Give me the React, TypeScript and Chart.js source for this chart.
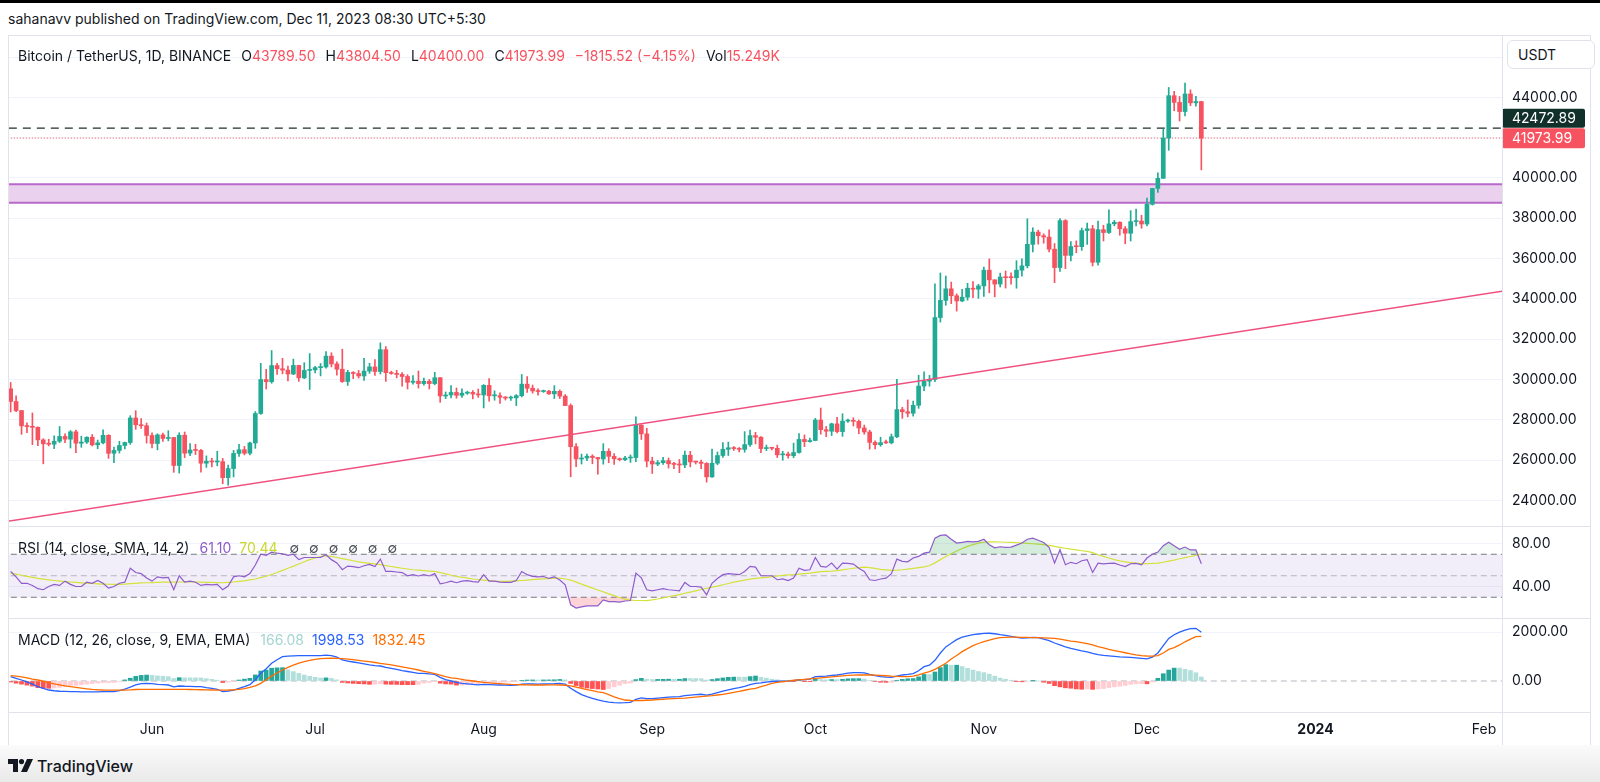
import React, { useEffect, useRef } from "react";
import { Chart, registerables } from "chart.js";

Chart.register(...registerables);

// ---------- data (daily candles, first candle = 2023-05-06) ----------
const opens = [
  29534, 28904, 28454, 27694, 27658, 27621, 27000, 26804, 26784, 26931, 27170, 27034, 27399, 26833, 26890, 27130, 26754, 26851, 27225, 26334, 26476, 26720, 26868, 28085, 27746, 27702,
  27219, 26819, 27249, 27069, 27116, 25728, 27230, 26339, 26498, 26477, 25841, 25940, 25903, 25919, 25125, 25576, 26327, 26510, 26336, 26845, 28307, 29993, 29885, 30688, 30528, 30462, 30267, 30693, 30077, 30446,
  30472, 30585, 30617, 31156, 30767, 30504, 29895, 30346, 30292, 30171, 30414, 30620, 30391, 31476, 30334, 30295, 30249, 30145, 29856, 29913, 29792, 29908, 29791, 30083, 29176, 29228, 29354, 29210, 29317, 29356, 29275,
  29230, 29705, 29186, 29193, 29113, 29073, 29088, 29193, 29765, 29561, 29429, 29397, 29415, 29283, 29408, 29170, 28701, 26664, 26049, 26097, 26189, 26125, 26052, 26432, 26180, 26060, 26018, 26098, 26120, 27726, 27297,
  25941, 25800, 25869, 25969, 25812, 25780, 25753, 26241, 25906, 25895, 25832, 25163, 25840, 26223, 26533, 26609, 26568, 26527, 26763, 27211, 27133, 26568, 26580, 26579, 26256, 26298, 26217, 26372, 27021, 26911,
  26967, 27983, 27505, 27429, 27794, 27410, 27932, 27957, 27918, 27590, 27392, 26874, 26757, 26863, 26853, 27154, 28500, 28395, 28321, 28714, 29669, 29910, 29993, 33070, 33922, 34497, 34152, 33892, 34082, 34525, 34477,
  34640, 35421, 34941, 34732, 35083, 35048, 35047, 35420, 35638, 36702, 37311, 37130, 37064, 36462, 35551, 37880, 36154, 36596, 36585, 37386, 37476, 35813, 37432, 37289, 37721, 37797, 37479, 37254, 37831, 37858,
  37712, 38688, 39476, 39978, 41980, 44080, 43746, 43293, 44166, 43725, 43789.5,
];
const highs = [
  29848, 29180, 28459, 27842, 28336, 27641, 27055, 27030, 27200, 27666, 27299, 27465, 27485, 27183, 27155, 27265, 26991, 27495, 27258, 26645, 26931, 26890, 28200, 28447, 28050, 27835,
  27350, 27300, 27337, 27455, 27130, 27355, 27391, 26810, 26783, 26530, 26203, 26087, 26433, 26080, 25750, 26478, 26784, 26677, 26889, 28402, 30800, 30500, 31432, 30800, 31046, 30666, 31006, 30703, 30829, 31282,
  30654, 30789, 31380, 31324, 30878, 31500, 30449, 30386, 30445, 31046, 30800, 30980, 31814, 31630, 30408, 30455, 30337, 30233, 30184, 30417, 30063, 29998, 30350, 30099, 29376, 29690, 29572, 29530, 29415, 29449, 29525,
  29744, 30047, 29433, 29333, 29152, 29177, 29250, 30245, 30136, 29719, 29530, 29472, 29454, 29690, 29477, 29250, 28783, 26818, 26296, 26299, 26260, 26139, 26810, 26560, 26314, 26107, 26183, 26250, 28142, 27757, 27575,
  26139, 25976, 26127, 26100, 25888, 26026, 26443, 26432, 25945, 26000, 25870, 26538, 26400, 26860, 26888, 26670, 26623, 27409, 27488, 27376, 27160, 26743, 26632, 26738, 26432, 26389, 26837, 27308, 27244, 27094,
  28065, 28580, 27667, 27830, 28120, 28295, 28030, 28095, 27987, 27735, 27480, 26947, 27130, 26990, 27289, 30000, 28613, 28982, 28925, 30207, 30379, 30200, 34741, 35280, 35132, 34832, 34245, 34476, 34770, 34856, 34720,
  35573, 35984, 34942, 35275, 35380, 35287, 35892, 35980, 37972, 37526, 37408, 37228, 37417, 36744, 37980, 37930, 36845, 36876, 37509, 37755, 37650, 37856, 37653, 38416, 37892, 37828, 37589, 38377, 38450, 38145,
  38999, 39476, 40250, 42420, 44488, 44300, 44042, 44700, 44370, 44046, 43804.5,
];
const lows = [
  28385, 28401, 27273, 27352, 26764, 26706, 25811, 26699, 26560, 26863, 26856, 26595, 26361, 26631, 26819, 26697, 26560, 26801, 26082, 25871, 26345, 26553, 26778, 27524, 27563, 26839,
  26605, 26505, 26923, 26951, 25388, 25351, 26119, 26210, 26269, 25400, 25633, 25659, 25713, 24820, 24757, 25160, 26175, 26255, 26256, 26579, 28266, 29525, 29809, 30250, 30277, 29930, 30236, 29900, 30037, 29500,
  30324, 30173, 30554, 30619, 30209, 29850, 29701, 30038, 30065, 29950, 30300, 30200, 30268, 29900, 30254, 30077, 29659, 29525, 29763, 29570, 29716, 29525, 29730, 28861, 29047, 29083, 29069, 29102, 29256, 29033, 29111,
  28585, 28920, 28968, 28806, 28978, 28959, 28701, 29128, 29350, 29320, 29220, 29356, 29252, 29050, 29050, 28700, 25166, 25668, 25801, 25963, 25812, 25300, 25793, 25864, 25777, 25960, 25971, 25880, 25922, 27018, 25655,
  25333, 25718, 25780, 25600, 25570, 25370, 25615, 25659, 25802, 25570, 24901, 25131, 25766, 26126, 26224, 26474, 26400, 26385, 26674, 26800, 26365, 26468, 26500, 26122, 25990, 26090, 26111, 26341, 26665, 26890,
  26954, 27282, 27160, 27215, 27340, 27175, 27860, 27689, 27300, 27280, 26538, 26555, 26685, 26815, 26800, 27112, 28069, 28142, 28175, 28565, 29440, 29666, 29883, 32846, 33679, 33762, 33390, 33860, 33930, 34062, 34025,
  34116, 34300, 34097, 34586, 34534, 34732, 34525, 35123, 35534, 36324, 36712, 36760, 36333, 34800, 35361, 35500, 35875, 36289, 36403, 36700, 35632, 35670, 36870, 37251, 37617, 37155, 36731, 36869, 37615, 37500,
  37615, 38650, 39275, 39978, 41371, 43335, 42821, 43081, 43583, 43566, 40400,
];
const closes = [
  28904, 28454, 27694, 27658, 27621, 27000, 26804, 26784, 26931, 27170, 27034, 27399, 26833, 26890, 27130, 26754, 26851, 27225, 26334, 26476, 26720, 26868, 28085, 27746, 27702, 27219,
  26819, 27249, 27069, 27116, 25728, 27230, 26339, 26498, 26477, 25841, 25940, 25903, 25919, 25125, 25576, 26327, 26510, 26336, 26845, 28307, 29993, 29885, 30688, 30528, 30462, 30267, 30693, 30077, 30446, 30472,
  30585, 30617, 31156, 30767, 30504, 29895, 30346, 30292, 30171, 30414, 30620, 30391, 31476, 30334, 30295, 30249, 30145, 29856, 29913, 29792, 29908, 29791, 30083, 29176, 29228, 29354, 29210, 29317, 29356, 29275, 29230,
  29705, 29186, 29193, 29113, 29073, 29088, 29193, 29765, 29561, 29429, 29397, 29415, 29283, 29408, 29170, 28701, 26664, 26049, 26097, 26189, 26125, 26052, 26432, 26180, 26060, 26018, 26098, 26120, 27726, 27297, 25941,
  25800, 25869, 25969, 25812, 25780, 25753, 26241, 25906, 25895, 25832, 25163, 25840, 26223, 26533, 26609, 26568, 26527, 26763, 27211, 27133, 26568, 26580, 26579, 26256, 26298, 26217, 26372, 27021, 26911, 26967,
  27983, 27505, 27429, 27794, 27410, 27932, 27957, 27918, 27590, 27392, 26874, 26757, 26863, 26853, 27154, 28500, 28395, 28321, 28714, 29669, 29910, 29993, 33070, 33922, 34497, 34152, 33892, 34082, 34525, 34477, 34640,
  35421, 34941, 34732, 35083, 35048, 35047, 35420, 35638, 36702, 37311, 37130, 37064, 36462, 35551, 37880, 36154, 36596, 36585, 37386, 37476, 35813, 37432, 37289, 37721, 37797, 37479, 37254, 37831, 37858, 37712,
  38688, 39476, 39978, 41980, 44080, 43746, 43293, 44166, 43725, 43789.5, 41973.99,
];

const rsiValues = [
  54, 49, 43, 43, 41, 38, 37, 40, 42, 41, 45, 42, 40, 40, 44, 43, 45.6, 43, 38.5, 40,
  43, 44, 57, 53, 52, 48, 45, 49, 48, 48.5, 37, 50, 44, 45, 44, 41, 42, 41.6, 42, 37,
  40.5, 49, 50, 49, 52, 60, 70, 69, 72, 71, 70.5, 69, 70, 65, 67, 67, 67, 67, 69.5, 65,
  62, 55.6, 59, 58.5, 57.5, 59.3, 60.5, 58.5, 65.5, 54, 54, 53.5, 53, 50, 51, 49.8, 51, 49.8, 52, 42.5,
  43.5, 45, 43.5, 45, 45.5, 44.5, 44, 51, 45, 45, 44, 43.8, 43.8, 45.5, 54, 51, 49.5, 49, 49.3, 47.5,
  49, 46, 41.5, 23, 20, 21, 22, 22, 22, 27.5, 26, 26, 25.5, 26.5, 27, 52.5, 48, 37, 36, 37,
  38, 37, 36.5, 36, 43.8, 40, 40, 39.5, 32.3, 43, 47.5, 51, 52, 51.5, 51, 54, 58.7, 58, 50, 50,
  50, 46.3, 47, 45.6, 47.8, 57, 55, 55.6, 67, 58.7, 58, 61.8, 56.2, 61.8, 61.5, 60.9, 57, 54, 46.3, 45.6,
  47, 47.8, 52, 65.5, 63.4, 63, 66.5, 68, 71, 72, 85, 87.6, 88, 84, 80.4, 81, 82, 81.5, 82, 84,
  78.9, 76, 77, 76.5, 76.7, 78.5, 80.4, 84, 85, 83, 81, 76.5, 61.8, 74.2, 60.2, 62.5, 61.2, 64, 65, 53.1,
  61.8, 61, 61.5, 61.8, 60, 58.5, 61.2, 61.5, 60.2, 66.5, 70, 72, 78, 81.2, 78, 74.6, 76.7, 74, 74, 61.1,
];
const rsiSmaValues = [
  52.5, 51.5, 50.5, 49.5, 48.5, 47.5, 46.8, 46.2, 45.6, 45.1, 44.6, 44.2, 43.8, 43.4, 43.1, 42.8, 42.5, 42.3, 42.1, 42.0,
  42.0, 42.2, 42.6, 43.0, 43.3, 43.5, 43.6, 43.8, 44.0, 44.1, 44.0, 44.2, 44.4, 44.3, 44.2, 44.0, 43.9, 43.8, 43.7, 43.5,
  43.8, 44.2, 44.7, 45.3, 46.2, 47.0, 48.2, 49.5, 51.2, 53.0, 55.0, 57.0, 59.0, 61.0, 63.0, 65.0, 66.5, 67.8, 68.6, 68.0,
  67.0, 66.0, 65.0, 64.0, 63.0, 62.3, 61.6, 61.0, 60.3, 59.5, 58.6, 57.8, 57.0, 56.3, 55.6, 55.2, 54.8, 54.4, 54.0, 53.0,
  51.8, 50.5, 49.4, 48.6, 47.8, 47.0, 46.5, 46.0, 45.5, 45.0, 44.7, 44.8, 45.0, 45.3, 45.6, 46.0, 46.4, 46.8, 47.1, 47.4,
  47.7, 47.8, 47.0, 46.0, 44.1, 42.2, 40.4, 38.5, 36.7, 35.0, 33.2, 31.5, 29.8, 28.3, 27.4, 27.0, 27.0, 26.9, 27.5, 28.4,
  29.5, 30.5, 31.5, 32.5, 33.7, 34.8, 36.0, 37.2, 38.3, 39.4, 40.4, 41.6, 42.8, 44.0, 45.0, 46.0, 46.8, 47.5, 48.0, 48.5,
  49.2, 49.8, 50.3, 50.8, 51.0, 51.5, 52.0, 52.5, 53.2, 53.8, 54.0, 54.2, 54.8, 55.5, 56.3, 57.0, 57.6, 58.0, 57.5, 56.8,
  56.0, 55.5, 55.0, 55.2, 55.6, 56.2, 56.8, 57.5, 58.3, 59.5, 62.0, 65.0, 68.0, 70.5, 73.0, 75.3, 77.3, 79.0, 80.3, 81.2,
  81.5, 81.6, 81.4, 81.2, 81.0, 80.8, 80.5, 80.2, 79.8, 79.4, 79.0, 78.2, 77.3, 76.4, 75.6, 74.8, 74.0, 73.3, 72.7, 71.5,
  69.5, 68.0, 66.5, 65.0, 63.8, 63.0, 62.3, 61.7, 61.3, 61.2, 61.5, 61.8, 62.6, 63.6, 64.6, 65.8, 66.8, 67.9, 69.0, 70.44,
];
const macdValues = [
  178, 110, 41, -40, -130, -233, -300, -370, -400, -420, -430, -438, -440, -445, -448, -450, -445, -440, -440, -438,
  -400, -330, -250, -160, -110, -96, -110, -137, -150, -165, -240, -205, -215, -220, -228, -233, -270, -300, -340, -438,
  -420, -370, -300, -233, -150, 50, 315, 500, 726, 870, 1000, 1020, 1035, 1041, 1041, 1041, 1040, 1041, 1060, 1041,
  980, 863, 820, 780, 740, 700, 658, 630, 616, 560, 520, 479, 430, 390, 350, 315, 315, 290, 270, 150,
  60, 0, -60, -96, -120, -140, -155, -140, -150, -160, -164, -170, -175, -170, -130, -120, -120, -125, -120, -115,
  -110, -100, -130, -300, -438, -560, -640, -712, -780, -830, -870, -890, -895, -890, -880, -750, -690, -720, -720, -700,
  -680, -660, -650, -640, -600, -580, -560, -545, -580, -540, -480, -420, -360, -310, -270, -220, -150, -96, -80, -50,
  -20, -10, -5, 0, 14, 60, 60, 80, 178, 190, 200, 230, 247, 280, 320, 342, 345, 330, 270, 219,
  180, 160, 151, 200, 247, 270, 300, 420, 589, 650, 850, 1150, 1400, 1548, 1700, 1800, 1850, 1900, 1930, 1959,
  1960, 1940, 1900, 1870, 1830, 1790, 1760, 1770, 1790, 1781, 1720, 1660, 1560, 1480, 1400, 1342, 1290, 1240, 1200, 1137,
  1080, 1050, 1030, 1010, 990, 980, 973, 950, 930, 910, 980, 1150, 1450, 1750, 1900, 2010, 2090, 2150, 2164, 1998.53,
];
const signalValues = [
  219, 200, 170, 130, 80, 41, -10, -70, -120, -160, -200, -233, -260, -290, -320, -345, -360, -370, -375, -378,
  -378, -375, -365, -350, -340, -340, -342, -345, -345, -342, -340, -342, -345, -350, -355, -360, -365, -370, -372, -375,
  -370, -360, -340, -310, -260, -200, -96, 50, 200, 330, 452, 560, 650, 730, 795, 850, 890, 920, 932, 935,
  932, 920, 900, 880, 850, 820, 795, 760, 720, 690, 658, 620, 580, 540, 500, 452, 400, 350, 300, 240,
  180, 130, 110, 70, 30, 0, -30, -60, -80, -96, -110, -125, -140, -150, -155, -160, -164, -164, -164, -160,
  -160, -164, -175, -200, -250, -301, -350, -400, -450, -479, -560, -650, -720, -781, -800, -808, -800, -790, -780, -765,
  -750, -735, -720, -712, -700, -680, -660, -640, -620, -600, -575, -545, -510, -470, -430, -380, -330, -301, -230, -170,
  -96, -60, -30, -8, 30, 50, 68, 90, 110, 130, 150, 170, 190, 210, 230, 245, 247, 247, 247, 240,
  230, 215, 200, 190, 178, 178, 200, 250, 320, 384, 480, 600, 726, 900, 1050, 1205, 1330, 1450, 1540, 1616,
  1680, 1740, 1780, 1795, 1800, 1800, 1795, 1790, 1785, 1781, 1770, 1760, 1753, 1720, 1680, 1640, 1616, 1580, 1530, 1480,
  1411, 1360, 1300, 1250, 1205, 1160, 1110, 1070, 1040, 1027, 1020, 1040, 1150, 1300, 1370, 1480, 1610, 1720, 1824, 1832.45,
];
const histValues = [
  -41, -90, -129, -170, -210, -274, -290, -300, -280, -260, -230, -205, -180, -155, -128, -105, -85, -70, -65, -60,
  -22, 45, 115, 190, 230, 244, 232, 208, 195, 177, 100, 137, 130, 130, 127, 127, 95, 70, 32, -63,
  -50, -10, 40, 77, 110, 250, 411, 450, 526, 540, 548, 460, 385, 311, 246, 191, 150, 121, 128, 106,
  48, -57, -80, -100, -110, -120, -137, -130, -104, -130, -138, -141, -150, -150, -150, -137, -85, -60, -30, -90,
  -120, -130, -170, -166, -150, -140, -125, -80, -70, -64, -54, -45, -35, -20, 25, 40, 44, 39, 44, 45,
  50, 64, 45, -100, -188, -259, -290, -312, -330, -351, -310, -240, -175, -109, -80, 58, 110, 70, 60, 65,
  70, 75, 70, 72, 100, 100, 100, 95, 40, 60, 95, 125, 150, 160, 160, 160, 180, 205, 150, 120,
  76, 50, 25, 8, -16, 10, -8, -10, 68, 60, 50, 60, 57, 70, 90, 97, 98, 83, 23, -21,
  -50, -55, -49, 10, 69, 92, 100, 170, 269, 266, 370, 550, 674, 648, 650, 595, 520, 450, 390, 343,
  280, 200, 120, 75, 30, -10, -35, -20, 5, 0, -50, -100, -193, -240, -280, -298, -326, -340, -330, -343,
  -331, -310, -270, -240, -215, -180, -137, -120, -110, -117, -40, 110, 300, 450, 530, 530, 480, 430, 340, 166.08,
];

// x positions are day offsets from 2023-05-06
const monthTickValues = [26, 56, 87, 118, 148, 179, 209, 240, 271];
const monthTickLabels = ["Jun", "Jul", "Aug", "Sep", "Oct", "Nov", "Dec", "2024", "Feb"];
const priceTicks = [24000, 26000, 28000, 30000, 32000, 34000, 36000, 38000, 40000, 42000, 44000, 46000];
const rsiTicks = [40, 80];
const macdTicks = [0, 2000];

const lastPrice = 41973.99;
const markerPrice = 42472.89;
const zoneTop = 39680;
const zoneBottom = 38770;
const trendX = [-4, 278];
const trendY = [22812, 34526];
const rsiUpper = 70;
const rsiMid = 50;
const rsiLower = 30;

// ---------- styling / layout ----------
const FONT = "Inter, 'Noto Sans', 'DejaVu Sans', sans-serif";
const TEXT = "#131722";
const UP = "#22ab94";
const DOWN = "#f7525f";
const GRID = "#f0f3fa";
const SEP = "#e0e3eb";
const ZONE = "#b868c9";

const PANE_LEFT = 8;
const AXIS_X = 1502;
const RIGHT = 1590;
const AXIS_W = RIGHT - AXIS_X;
const CW = RIGHT - PANE_LEFT;
const MAIN_TOP = 35;
const RSI_TOP = 526;
const MACD_TOP = 618;
const XAXIS_TOP = 712;
const BOTTOM = 745;
const X_MIN = -0.49;
const X_MAX = 274.3;
const hX = [X_MIN - 5, X_MAX + 5];

function rightAxis(min: number, max: number, values: number[], fmt: (v: number) => string, gridColor: any) {
  return {
    type: "linear",
    position: "right",
    min,
    max,
    afterBuildTicks: (s: any) => {
      s.ticks = values.map((v) => ({ value: v }));
    },
    afterFit: (s: any) => {
      s.width = AXIS_W;
      s.paddingTop = 0;
      s.paddingBottom = 0;
    },
    grid: { color: gridColor, drawTicks: false, lineWidth: 1 },
    border: { display: false },
    ticks: {
      padding: 10,
      color: TEXT,
      autoSkip: false,
      font: { family: FONT, size: 14 },
      callback: (v: any) => fmt(Number(v)),
    },
  };
}

const hiddenX = {
  type: "linear",
  min: X_MIN,
  max: X_MAX,
  display: false,
  offset: false,
  grid: { offset: false },
};

const baseOptions = {
  responsive: false,
  maintainAspectRatio: false,
  animation: false,
  events: [] as string[],
  layout: { padding: 0 },
  plugins: { legend: { display: false }, tooltip: { enabled: false } },
};

function roundRect(ctx: CanvasRenderingContext2D, x: number, y: number, w: number, h: number, r: number) {
  ctx.beginPath();
  ctx.moveTo(x + r, y);
  ctx.lineTo(x + w - r, y);
  ctx.quadraticCurveTo(x + w, y, x + w, y + r);
  ctx.lineTo(x + w, y + h - r);
  ctx.quadraticCurveTo(x + w, y + h, x + w - r, y + h);
  ctx.lineTo(x + r, y + h);
  ctx.quadraticCurveTo(x, y + h, x, y + h - r);
  ctx.lineTo(x, y + r);
  ctx.quadraticCurveTo(x, y, x + r, y);
  ctx.closePath();
}

const priceLabelPlugin = {
  id: "priceLabels",
  afterDraw(chart: any) {
    const { ctx, chartArea } = chart;
    const y = chart.scales.y;
    const x0 = chartArea.right;
    const w = 83;
    const hRed = 20;
    const hDark = 19;
    const yRed = y.getPixelForValue(lastPrice);
    const redTop = yRed - hRed / 2;
    const darkTop = Math.min(y.getPixelForValue(markerPrice) - hDark / 2, redTop - hDark - 0.5);
    ctx.save();
    ctx.font = `14px ${FONT}`;
    ctx.textBaseline = "middle";
    ctx.textAlign = "left";
    ctx.fillStyle = "#12302a";
    roundRect(ctx, x0, darkTop, w, hDark, 2);
    ctx.fill();
    ctx.fillStyle = "#ffffff";
    ctx.fillText(markerPrice.toFixed(2), x0 + 10, darkTop + hDark / 2 + 0.5);
    ctx.fillStyle = DOWN;
    roundRect(ctx, x0, redTop, w, hRed, 2);
    ctx.fill();
    ctx.fillStyle = "#ffffff";
    ctx.fillText(lastPrice.toFixed(2), x0 + 10, yRed + 0.5);
    ctx.restore();
  },
};

export default function App() {
  const mainRef = useRef<HTMLCanvasElement>(null);
  const rsiRef = useRef<HTMLCanvasElement>(null);
  const macdRef = useRef<HTMLCanvasElement>(null);

  useEffect(() => {
    const charts: Chart[] = [];
    const candleColors = closes.map((c, i) => (c >= opens[i] ? UP : DOWN));
    const line = (xs: number[], ys: number[]) => xs.map((x, i) => ({ x, y: ys[i] }));
    const flat = (v: number) => hX.map((x) => ({ x, y: v }));

    // ---- main price pane ----
    if (mainRef.current) {
      charts.push(
        new Chart(mainRef.current, {
          type: "bar",
          data: {
            datasets: [
              {
                type: "line",
                data: flat(zoneTop),
                borderColor: ZONE,
                borderWidth: 2,
                pointRadius: 0,
                fill: "+1",
                backgroundColor: "rgba(186,104,200,0.3)",
                order: 10,
              },
              {
                type: "line",
                data: flat(zoneBottom),
                borderColor: ZONE,
                borderWidth: 2,
                pointRadius: 0,
                fill: false,
                order: 9,
              },
              {
                type: "line",
                data: flat(markerPrice),
                borderColor: "#1f2f2c",
                borderWidth: 1.3,
                borderDash: [8, 6],
                pointRadius: 0,
                fill: false,
                order: 8,
              },
              {
                type: "line",
                data: flat(lastPrice),
                borderColor: DOWN,
                borderWidth: 1,
                borderDash: [1, 2],
                pointRadius: 0,
                fill: false,
                order: 7,
              },
              {
                type: "bar",
                data: highs.map((h, i) => ({ x: i, y: [lows[i], h] })),
                backgroundColor: candleColors,
                barThickness: 1,
                grouped: false,
                borderWidth: 0,
                minBarLength: 1,
                order: 3,
              },
              {
                type: "bar",
                data: closes.map((c, i) => ({ x: i, y: [opens[i], c] })),
                backgroundColor: candleColors,
                barThickness: 4,
                grouped: false,
                borderWidth: 0,
                minBarLength: 1,
                order: 2,
              },
              {
                type: "line",
                data: line(trendX, trendY),
                borderColor: "#f0507f",
                borderWidth: 1.5,
                pointRadius: 0,
                fill: false,
                order: 0,
              },
            ],
          } as any,
          options: {
            ...baseOptions,
            scales: {
              x: hiddenX,
              y: rightAxis(22725, 47092, priceTicks, (v) => (v >= 46000 ? "" : v.toFixed(2)), GRID),
            },
          } as any,
          plugins: [priceLabelPlugin],
        })
      );
    }

    // ---- RSI pane ----
    if (rsiRef.current) {
      charts.push(
        new Chart(rsiRef.current, {
          type: "line",
          data: {
            datasets: [
              {
                data: flat(rsiUpper),
                borderColor: "#787b86",
                borderWidth: 1,
                borderDash: [6, 4],
                pointRadius: 0,
                fill: "+1",
                backgroundColor: "rgba(126,87,194,0.1)",
                order: 10,
              },
              {
                data: flat(rsiLower),
                borderColor: "#787b86",
                borderWidth: 1,
                borderDash: [6, 4],
                pointRadius: 0,
                fill: false,
                order: 9,
              },
              {
                data: flat(rsiMid),
                borderColor: "rgba(120,123,134,0.5)",
                borderWidth: 1,
                borderDash: [6, 4],
                pointRadius: 0,
                fill: false,
                order: 8,
              },
              {
                data: rsiValues.map((v, i) => ({ x: i, y: v })),
                borderColor: "rgba(0,0,0,0)",
                borderWidth: 0,
                pointRadius: 0,
                fill: { target: { value: rsiLower }, above: "rgba(0,0,0,0)", below: "rgba(242,54,69,0.22)" },
                order: 5,
              },
              {
                data: rsiSmaValues.map((v, i) => ({ x: i, y: v })),
                borderColor: "#d4e23a",
                borderWidth: 1.2,
                pointRadius: 0,
                fill: false,
                order: 3,
              },
              {
                data: rsiValues.map((v, i) => ({ x: i, y: v })),
                borderColor: "#8e5ccc",
                borderWidth: 1.2,
                pointRadius: 0,
                fill: { target: { value: rsiUpper }, above: "rgba(60,170,90,0.22)", below: "rgba(0,0,0,0)" },
                order: 2,
              },
            ],
          } as any,
          options: {
            ...baseOptions,
            scales: {
              x: hiddenX,
              y: rightAxis(10.7, 96.3, rsiTicks, (v) => v.toFixed(2), GRID),
            },
          } as any,
        })
      );
    }

    // ---- MACD pane + time axis ----
    if (macdRef.current) {
      const histColors = histValues.map((h, i) => {
        const prev = i > 0 ? histValues[i - 1] : h;
        if (h >= 0) return h > prev ? "#26a69a" : "#b2dfdb";
        return h > prev ? "#ffcdd2" : "#ff5252";
      });
      charts.push(
        new Chart(macdRef.current, {
          type: "bar",
          data: {
            datasets: [
              {
                type: "line",
                data: flat(0),
                borderColor: "rgba(120,123,134,0.55)",
                borderWidth: 1,
                borderDash: [6, 4],
                pointRadius: 0,
                fill: false,
                order: 6,
              },
              {
                type: "bar",
                data: histValues.map((v, i) => ({ x: i, y: v })),
                backgroundColor: histColors,
                barThickness: 4,
                grouped: false,
                borderWidth: 0,
                order: 5,
              },
              {
                type: "line",
                data: macdValues.map((v, i) => ({ x: i, y: v })),
                borderColor: "#2962ff",
                borderWidth: 1.3,
                pointRadius: 0,
                fill: false,
                order: 2,
              },
              {
                type: "line",
                data: signalValues.map((v, i) => ({ x: i, y: v })),
                borderColor: "#ff6d00",
                borderWidth: 1.3,
                pointRadius: 0,
                fill: false,
                order: 1,
              },
            ],
          } as any,
          options: {
            ...baseOptions,
            scales: {
              x: {
                type: "linear",
                position: "bottom",
                min: X_MIN,
                max: X_MAX,
                offset: false,
                afterBuildTicks: (s: any) => {
                  s.ticks = monthTickValues.map((v) => ({ value: v }));
                },
                afterFit: (s: any) => {
                  s.height = BOTTOM - XAXIS_TOP;
                  s.paddingLeft = 0;
                  s.paddingRight = 0;
                },
                grid: { display: false, drawTicks: false, offset: false },
                border: { display: false },
                ticks: {
                  padding: 9,
                  color: TEXT,
                  autoSkip: false,
                  maxRotation: 0,
                  font: (c: any) => ({
                    family: FONT,
                    size: 14,
                    weight: c.tick && c.tick.value === 240 ? "bold" : "normal",
                  }),
                  callback: (v: any) => monthTickLabels[monthTickValues.indexOf(Number(v))] ?? "",
                },
              },
              y: rightAxis(-1273, 2587, macdTicks, (v) => v.toFixed(2), (c: any) =>
                c.tick && c.tick.value === 0 ? "rgba(0,0,0,0)" : GRID
              ),
            },
          } as any,
        })
      );
    }

    return () => charts.forEach((c) => c.destroy());
  }, []);

  const abs = (s: React.CSSProperties): React.CSSProperties => ({ position: "absolute", ...s });
  const hline = (top: number): React.CSSProperties =>
    abs({ left: PANE_LEFT, top, width: CW, height: 1, background: SEP });
  const legendFont = `14px ${FONT}`;

  return (
    <div style={abs({ left: 0, top: 0, width: 1600, height: 782, background: "#ffffff", overflow: "hidden", fontFamily: FONT })}>
      <div style={abs({ left: 0, top: 0, width: 1600, height: 3, background: "#000" })} />
      <div style={abs({ left: 8, top: 10, font: `14px ${FONT}`, color: TEXT, whiteSpace: "pre" })}>
        sahanavv published on TradingView.com, Dec 11, 2023 08:30 UTC+5:30
      </div>

      <canvas ref={mainRef} width={CW} height={RSI_TOP - MAIN_TOP} style={abs({ left: PANE_LEFT, top: MAIN_TOP, width: CW, height: RSI_TOP - MAIN_TOP })} />
      <canvas ref={rsiRef} width={CW} height={MACD_TOP - RSI_TOP} style={abs({ left: PANE_LEFT, top: RSI_TOP, width: CW, height: MACD_TOP - RSI_TOP })} />
      <canvas ref={macdRef} width={CW} height={BOTTOM - MACD_TOP} style={abs({ left: PANE_LEFT, top: MACD_TOP, width: CW, height: BOTTOM - MACD_TOP })} />

      {/* frame and separators */}
      <div style={abs({ left: PANE_LEFT, top: MAIN_TOP, width: CW - 1, height: BOTTOM - MAIN_TOP - 1, border: `1px solid ${SEP}`, pointerEvents: "none" })} />
      <div style={hline(RSI_TOP)} />
      <div style={hline(MACD_TOP)} />
      <div style={hline(XAXIS_TOP)} />
      <div style={abs({ left: AXIS_X, top: MAIN_TOP, width: 1, height: BOTTOM - MAIN_TOP, background: SEP })} />

      {/* currency box */}
      <div style={abs({ left: 1507, top: 40, width: 76, height: 27, border: `1px solid ${SEP}`, borderRadius: 6, background: "#fff", font: `14px ${FONT}`, color: TEXT, lineHeight: "27px", paddingLeft: 10 })}>
        USDT
      </div>

      {/* symbol legend */}
      <div style={abs({ left: 18, top: 47, font: legendFont, color: TEXT, whiteSpace: "pre" })}>
        Bitcoin / TetherUS, 1D, BINANCE
        <span style={{ marginLeft: 10 }}>O</span><span style={{ color: DOWN }}>43789.50</span>
        <span style={{ marginLeft: 10 }}>H</span><span style={{ color: DOWN }}>43804.50</span>
        <span style={{ marginLeft: 10 }}>L</span><span style={{ color: DOWN }}>40400.00</span>
        <span style={{ marginLeft: 10 }}>C</span><span style={{ color: DOWN }}>41973.99</span>
        <span style={{ marginLeft: 10, color: DOWN }}>−1815.52 (−4.15%)</span>
        <span style={{ marginLeft: 10 }}>Vol</span><span style={{ color: DOWN }}>15.249K</span>
      </div>

      {/* RSI legend */}
      <div style={abs({ left: 18, top: 539, font: legendFont, color: TEXT, whiteSpace: "pre" })}>
        RSI (14, close, SMA, 14, 2)
        <span style={{ marginLeft: 10, color: "#8e5ccc" }}>61.10</span>
        <span style={{ marginLeft: 8, color: "#c9d830" }}>70.44</span>
        <span style={{ marginLeft: 12, color: "#4a4d57", letterSpacing: 10 }}>∅∅∅∅∅∅</span>
      </div>

      {/* MACD legend */}
      <div style={abs({ left: 18, top: 631, font: legendFont, color: TEXT, whiteSpace: "pre" })}>
        MACD (12, 26, close, 9, EMA, EMA)
        <span style={{ marginLeft: 10, color: "#a5d6d1" }}>166.08</span>
        <span style={{ marginLeft: 8, color: "#2962ff" }}>1998.53</span>
        <span style={{ marginLeft: 8, color: "#ff6d00" }}>1832.45</span>
      </div>

      {/* bottom strip with logo */}
      <div style={abs({ left: 0, top: BOTTOM, width: 1600, height: 782 - BOTTOM, background: "linear-gradient(#fbfbfb, #e9e9ea)" })} />
      <svg style={abs({ left: 8, top: 759, width: 25, height: 13 })} viewBox="0 0 25 13">
        <path d="M0 0h10v13H5V5H0z" fill="#131722" />
        <circle cx="13.5" cy="2.6" r="2.6" fill="#131722" />
        <path d="M19 0h6l-6 13h-6z" fill="#131722" />
      </svg>
      <div style={abs({ left: 37, top: 756, font: `500 16px ${FONT}`, color: TEXT, whiteSpace: "pre" })}>TradingView</div>
    </div>
  );
}
